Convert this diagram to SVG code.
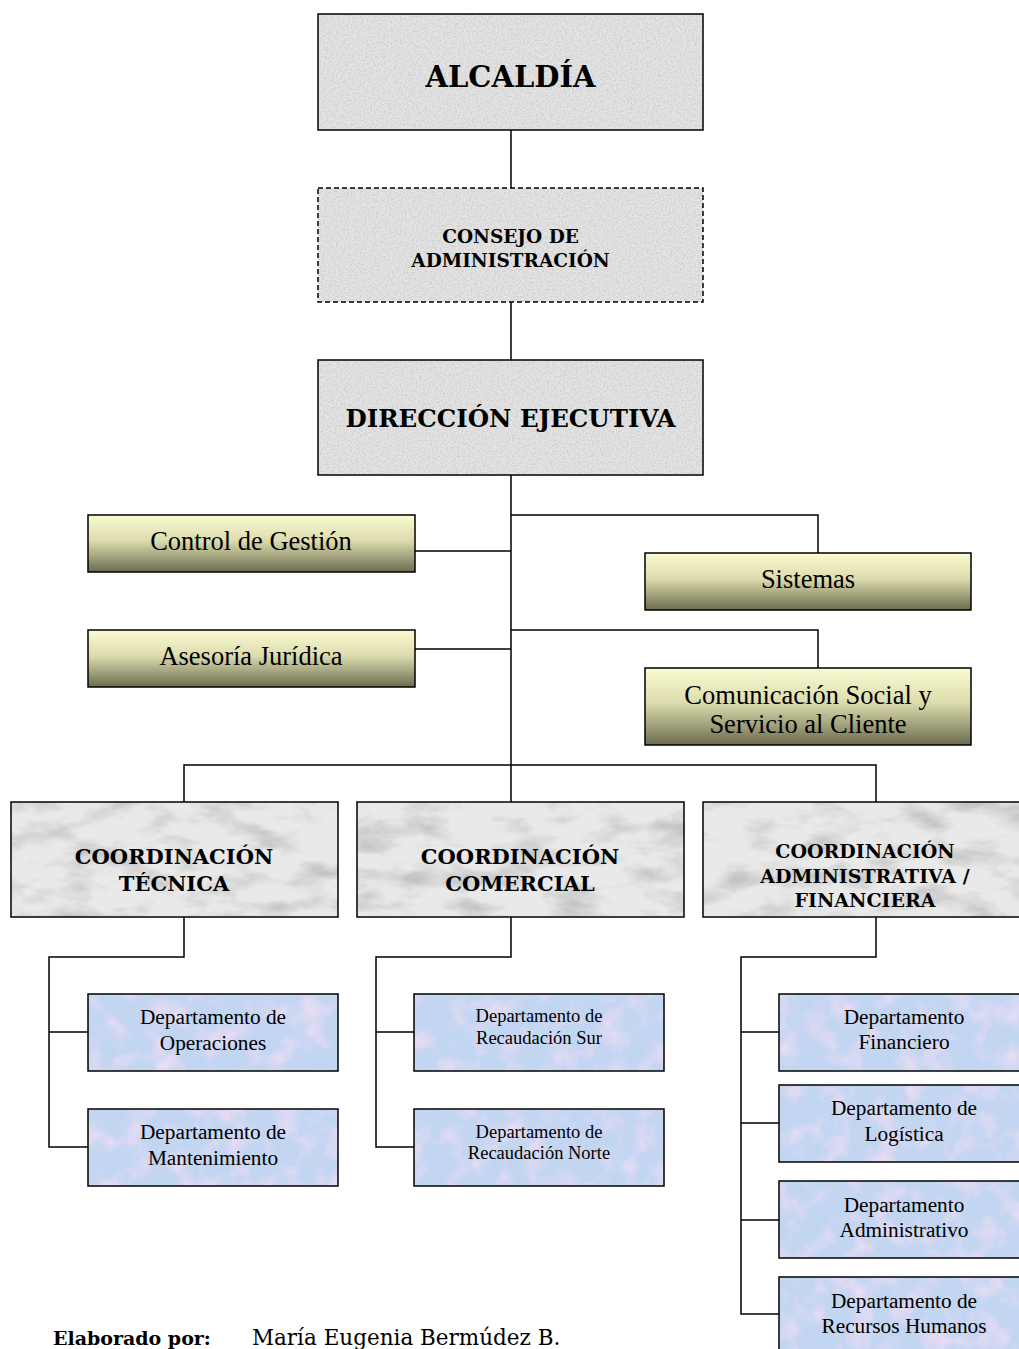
<svg xmlns="http://www.w3.org/2000/svg" width="1019" height="1349" viewBox="0 0 1019 1349">
<style>
.b{fill:none;stroke:#000;stroke-width:1.5}
.c{fill:none;stroke:#000;stroke-width:1.5}
.hb{font-family:"DejaVu Serif",serif;font-weight:bold;fill:#000;text-anchor:middle}
.tr{font-family:"Liberation Serif","Times New Roman",serif;fill:#000;text-anchor:middle}
.ol{font-size:26.5px}
.dp{font-size:21.3px}
.ds{font-size:18.5px}
</style>
<defs>
<filter id="granite" x="0" y="0" width="100%" height="100%">
<feTurbulence type="fractalNoise" baseFrequency="0.55" numOctaves="2" seed="4" result="n"/>
<feColorMatrix in="n" type="matrix" values="0 0 0 0 0.6 0 0 0 0 0.6 0 0 0 0 0.6 -2.2 0 0 0 1.35" result="s"/>
<feComposite in="s" in2="SourceGraphic" operator="in" result="s2"/>
<feMerge><feMergeNode in="SourceGraphic"/><feMergeNode in="s2"/></feMerge>
</filter>
<filter id="marble" x="0" y="0" width="100%" height="100%">
<feTurbulence type="fractalNoise" baseFrequency="0.02 0.045" numOctaves="4" seed="7" result="n"/>
<feColorMatrix in="n" type="matrix" values="0 0 0 0 0.55 0 0 0 0 0.55 0 0 0 0 0.55 -2.6 0 0 0 1.45" result="s"/>
<feComposite in="s" in2="SourceGraphic" operator="in" result="s2"/>
<feMerge><feMergeNode in="SourceGraphic"/><feMergeNode in="s2"/></feMerge>
</filter>
<filter id="blue" x="0" y="0" width="100%" height="100%">
<feTurbulence type="fractalNoise" baseFrequency="0.04" numOctaves="3" seed="2" result="n"/>
<feColorMatrix in="n" type="matrix" values="0 0 0 0 0.85 0 0 0 0 0.72 0 0 0 0 0.9 -2.2 0 0 0 1.2" result="s"/>
<feComposite in="s" in2="SourceGraphic" operator="in" result="s2"/>
<feMerge><feMergeNode in="SourceGraphic"/><feMergeNode in="s2"/></feMerge>
</filter>
<linearGradient id="olive" x1="0" y1="0" x2="0" y2="1">
<stop offset="0" stop-color="#fbfbd2"/>
<stop offset="0.45" stop-color="#dcdcae"/>
<stop offset="1" stop-color="#6c6c50"/>
</linearGradient>
</defs>

<g id="connectors">
<path class="c" d="M511 130V188M511 302V360M511 475V802"/>
<path class="c" d="M415 551H511M511 515H818V553M415 649H511M511 630H818V668"/>
<path class="c" d="M184 802V765H876V802"/>
<path class="c" d="M184 917V957H49V1147H88M49 1032H88"/>
<path class="c" d="M511 917V957H376V1147H414M376 1032H414"/>
<path class="c" d="M876 917V957H741V1314H779M741 1032H779M741 1123H779M741 1220H779"/>
</g>

<g id="alcaldia">
<rect x="318" y="14" width="385" height="116" fill="#e4e4e4" filter="url(#granite)"/>
<rect class="b" x="318" y="14" width="385" height="116"/>
<text class="hb" x="510.5" y="87" font-size="29">ALCALDÍA</text>
</g>
<g id="consejo">
<rect x="318" y="188" width="385" height="114" fill="#e4e4e4" filter="url(#granite)"/>
<rect class="b" x="318" y="188" width="385" height="114" stroke-dasharray="5,3"/>
<text class="hb" x="510.5" y="243" font-size="18.5">CONSEJO DE</text>
<text class="hb" x="510.5" y="267" font-size="18.5">ADMINISTRACIÓN</text>
</g>
<g id="direccion">
<rect x="318" y="360" width="385" height="115" fill="#e4e4e4" filter="url(#granite)"/>
<rect class="b" x="318" y="360" width="385" height="115"/>
<text class="hb" x="510.5" y="427" font-size="24.5">DIRECCIÓN EJECUTIVA</text>
</g>

<g id="control">
<rect x="88" y="515" width="327" height="57" fill="url(#olive)" stroke="#000" stroke-width="1.5"/>
<text class="tr ol" x="251" y="550">Control de Gestión</text>
</g>
<g id="asesoria">
<rect x="88" y="630" width="327" height="57" fill="url(#olive)" stroke="#000" stroke-width="1.5"/>
<text class="tr ol" x="251" y="665">Asesoría Jurídica</text>
</g>
<g id="sistemas">
<rect x="645" y="553" width="326" height="57" fill="url(#olive)" stroke="#000" stroke-width="1.5"/>
<text class="tr ol" x="808" y="588">Sistemas</text>
</g>
<g id="comunicacion">
<rect x="645" y="668" width="326" height="77" fill="url(#olive)" stroke="#000" stroke-width="1.5"/>
<text class="tr ol" x="808" y="704">Comunicación Social y</text>
<text class="tr ol" x="808" y="733">Servicio al Cliente</text>
</g>

<g id="coord-tecnica">
<rect x="11" y="802" width="327" height="115" fill="#e9e9e9" filter="url(#marble)"/>
<rect class="b" x="11" y="802" width="327" height="115"/>
<text class="hb" x="174" y="864" font-size="21">COORDINACIÓN</text>
<text class="hb" x="174" y="891" font-size="21">TÉCNICA</text>
</g>
<g id="coord-comercial">
<rect x="357" y="802" width="327" height="115" fill="#e9e9e9" filter="url(#marble)"/>
<rect class="b" x="357" y="802" width="327" height="115"/>
<text class="hb" x="520" y="864" font-size="21">COORDINACIÓN</text>
<text class="hb" x="520" y="891" font-size="21">COMERCIAL</text>
</g>
<g id="coord-administrativa">
<rect x="703" y="802" width="330" height="115" fill="#e9e9e9" filter="url(#marble)"/>
<rect class="b" x="703" y="802" width="330" height="115"/>
<text class="hb" x="865" y="858" font-size="19">COORDINACIÓN</text>
<text class="hb" x="865" y="883" font-size="19">ADMINISTRATIVA /</text>
<text class="hb" x="865" y="907" font-size="19">FINANCIERA</text>
</g>

<g id="dep-operaciones">
<rect x="88" y="994" width="250" height="77" fill="#c2d6f2" filter="url(#blue)"/>
<rect class="b" x="88" y="994" width="250" height="77"/>
<text class="tr dp" x="213" y="1024">Departamento de</text>
<text class="tr dp" x="213" y="1050">Operaciones</text>
</g>
<g id="dep-mantenimiento">
<rect x="88" y="1109" width="250" height="77" fill="#c2d6f2" filter="url(#blue)"/>
<rect class="b" x="88" y="1109" width="250" height="77"/>
<text class="tr dp" x="213" y="1139">Departamento de</text>
<text class="tr dp" x="213" y="1165">Mantenimiento</text>
</g>
<g id="dep-rec-sur">
<rect x="414" y="994" width="250" height="77" fill="#c2d6f2" filter="url(#blue)"/>
<rect class="b" x="414" y="994" width="250" height="77"/>
<text class="tr ds" x="539" y="1022">Departamento de</text>
<text class="tr ds" x="539" y="1044">Recaudación Sur</text>
</g>
<g id="dep-rec-norte">
<rect x="414" y="1109" width="250" height="77" fill="#c2d6f2" filter="url(#blue)"/>
<rect class="b" x="414" y="1109" width="250" height="77"/>
<text class="tr ds" x="539" y="1138">Departamento de</text>
<text class="tr ds" x="539" y="1159">Recaudación Norte</text>
</g>
<g id="dep-financiero">
<rect x="779" y="994" width="250" height="77" fill="#c2d6f2" filter="url(#blue)"/>
<rect class="b" x="779" y="994" width="250" height="77"/>
<text class="tr dp" x="904" y="1024">Departamento</text>
<text class="tr dp" x="904" y="1049">Financiero</text>
</g>
<g id="dep-logistica">
<rect x="779" y="1085" width="250" height="77" fill="#c2d6f2" filter="url(#blue)"/>
<rect class="b" x="779" y="1085" width="250" height="77"/>
<text class="tr dp" x="904" y="1115">Departamento de</text>
<text class="tr dp" x="904" y="1141">Logística</text>
</g>
<g id="dep-administrativo">
<rect x="779" y="1181" width="250" height="77" fill="#c2d6f2" filter="url(#blue)"/>
<rect class="b" x="779" y="1181" width="250" height="77"/>
<text class="tr dp" x="904" y="1212">Departamento</text>
<text class="tr dp" x="904" y="1237">Administrativo</text>
</g>
<g id="dep-rrhh">
<rect x="779" y="1277" width="250" height="85" fill="#c2d6f2" filter="url(#blue)"/>
<rect class="b" x="779" y="1277" width="250" height="85"/>
<text class="tr dp" x="904" y="1308">Departamento de</text>
<text class="tr dp" x="904" y="1333">Recursos Humanos</text>
</g>

<g id="footer">
<text x="53" y="1345" font-family="DejaVu Serif,serif" font-size="19" font-weight="bold">Elaborado por:</text>
<text x="252" y="1345" font-family="DejaVu Serif,serif" font-size="21.5">María Eugenia Bermúdez B.</text>
</g>
</svg>
